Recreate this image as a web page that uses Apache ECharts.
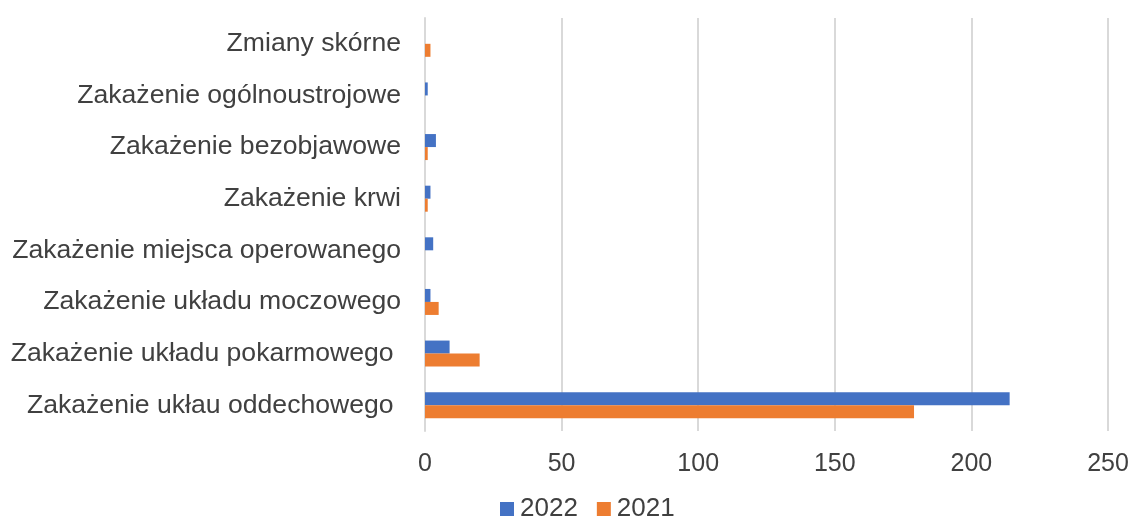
<!DOCTYPE html>
<html>
<head>
<meta charset="utf-8">
<script src="https://cdn.jsdelivr.net/npm/echarts@6/dist/echarts.min.js"></script>
<style>html,body{margin:0;padding:0;background:#fff}#c{width:1132px;height:519px}</style>
</head>
<body>
<div id="c"></div>
<script>
const categories = [
  "Zmiany skórne",
  "Zakażenie ogólnoustrojowe",
  "Zakażenie bezobjawowe",
  "Zakażenie krwi",
  "Zakażenie miejsca operowanego",
  "Zakażenie układu moczowego",
  "Zakażenie układu pokarmowego ",
  "Zakażenie ukłau oddechowego "
];
const values2022 = [0, 1, 4, 2, 3, 2, 9, 214];
const values2021 = [2, 0, 1, 1, 0, 5, 20, 179];
const xTicks = [0, 50, 100, 150, 200, 250];

const font = "'Liberation Sans', Arial, sans-serif";
const chart = echarts.init(document.getElementById('c'), null, {renderer: 'canvas'});
chart.setOption({
  animation: false,
  textStyle: {fontFamily: font},
  grid: {left: 425, right: 24, top: 18, bottom: 88, containLabel: false},
  legend: {
    data: ['2022', '2021'],
    left: 495, top: 491, padding: 5,
    itemWidth: 14, itemHeight: 14, itemGap: 19,
    icon: 'rect',
    textStyle: {fontSize: 26, color: '#404040', fontFamily: font, padding: [0, 0, 0, 1]}
  },
  xAxis: {
    type: 'value', min: xTicks[0], max: xTicks[xTicks.length - 1], interval: 50,
    axisLine: {show: false}, axisTick: {show: false},
    splitLine: {lineStyle: {color: '#d9d9d9', width: 2}},
    axisLabel: {fontSize: 25, color: '#404040', margin: 21, fontFamily: font}
  },
  yAxis: {
    type: 'category', data: categories, inverse: true,
    axisLine: {show: true, lineStyle: {color: '#d9d9d9', width: 2}},
    axisTick: {show: false},
    axisLabel: {fontSize: 26.6, color: '#404040', margin: 24, fontFamily: font}
  },
  series: [
    {name: '2022', type: 'bar', data: values2022, barWidth: 13, barGap: '0%',
     itemStyle: {color: '#4472C4'}},
    {name: '2021', type: 'bar', data: values2021, barWidth: 13, barGap: '0%',
     itemStyle: {color: '#ED7D31'}}
  ]
});
</script>
</body>
</html>
